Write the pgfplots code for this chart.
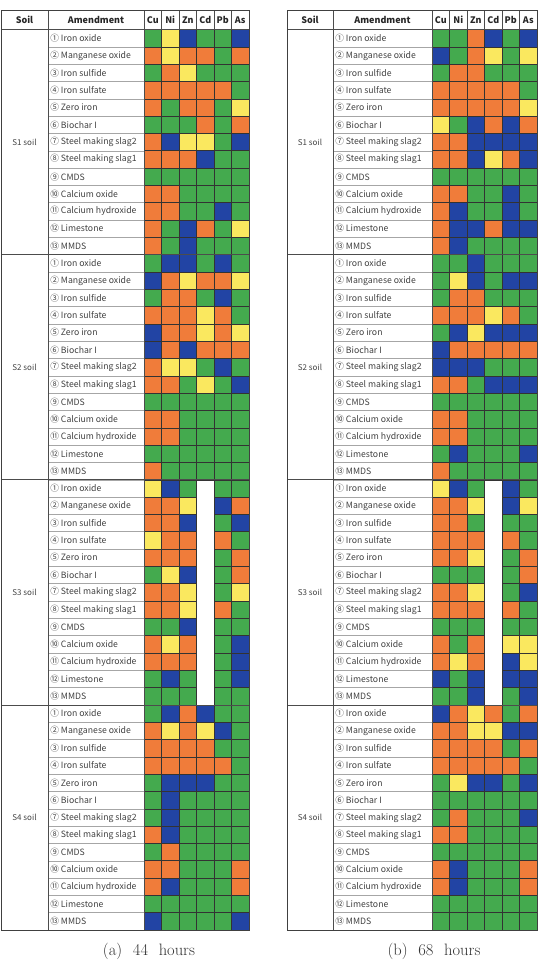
\documentclass[border=0pt]{standalone}
\usepackage{pgfplots}
\usepackage{pgfplotstable}
\pgfplotsset{compat=1.18}
\usepackage{fontspec}
\newfontfamily\tabfont{Noto Sans CJK KR}

\definecolor{cgreen}{RGB}{68,170,78}
\definecolor{cyellow}{RGB}{250,232,95}
\definecolor{corange}{RGB}{240,124,58}
\definecolor{cblue}{RGB}{34,68,164}

% Cell codes: 0 green, 1 yellow, 2 orange, 3 blue, 4 not measured
\pgfplotstableread{
row Cu Ni Zn Cd Pb As
0 0 1 3 0 0 3
1 2 1 2 2 0 2
2 0 2 1 0 0 0
3 2 2 2 2 2 0
4 2 0 2 2 0 1
5 0 0 0 2 0 2
6 2 3 1 1 0 3
7 2 2 2 3 0 0
8 0 0 0 0 0 0
9 2 2 0 0 0 0
10 2 2 0 0 3 0
11 2 0 3 2 0 1
12 2 0 3 0 0 0
13 0 3 3 0 3 0
14 3 2 1 2 2 1
15 0 2 2 0 3 0
16 2 2 2 1 2 0
17 3 2 2 1 2 1
18 3 2 3 2 2 2
19 2 1 1 0 3 0
20 2 2 0 1 0 3
21 0 0 0 0 0 0
22 2 2 0 0 0 0
23 2 2 0 0 0 0
24 0 0 0 0 0 0
25 2 0 0 0 0 0
26 1 3 0 4 0 0
27 2 2 1 4 3 2
28 2 2 3 4 0 3
29 1 2 2 4 2 0
30 2 2 2 4 0 2
31 0 1 3 4 0 2
32 2 2 1 4 0 1
33 2 2 1 4 2 0
34 0 0 3 4 0 0
35 2 1 2 4 0 3
36 2 2 2 4 0 3
37 0 3 0 4 0 3
38 0 0 0 4 0 0
39 0 3 2 3 0 0
40 2 1 2 1 3 0
41 2 2 2 2 0 0
42 2 2 2 2 2 0
43 0 3 3 3 0 0
44 0 3 0 0 0 0
45 0 3 0 0 0 0
46 2 3 0 0 0 0
47 0 2 0 0 0 0
48 2 2 0 0 0 2
49 2 3 0 0 0 2
50 0 0 0 0 0 0
51 3 0 0 0 0 3
}\hoursA

\pgfplotstableread{
row Cu Ni Zn Cd Pb As
0 0 0 2 3 0 3
1 3 0 2 1 0 1
2 0 2 2 0 0 0
3 2 2 2 2 2 0
4 2 2 2 2 2 1
5 1 0 3 2 3 2
6 2 2 3 3 3 3
7 2 2 3 1 2 3
8 0 0 0 0 0 0
9 2 2 0 0 3 0
10 2 3 0 0 3 0
11 2 3 3 2 3 3
12 2 3 0 0 0 0
13 0 0 3 0 0 0
14 0 1 3 0 3 3
15 0 2 2 0 0 0
16 2 2 2 1 2 0
17 0 3 1 3 3 3
18 3 2 2 2 2 2
19 3 3 3 0 0 0
20 2 2 0 3 3 3
21 0 0 0 0 0 0
22 2 2 0 0 0 0
23 2 2 0 0 0 0
24 0 3 0 0 0 3
25 2 0 0 0 0 0
26 1 3 0 4 3 0
27 2 2 1 4 3 1
28 2 2 0 4 0 0
29 2 2 2 4 2 0
30 2 2 1 4 0 2
31 0 0 0 4 0 2
32 2 2 1 4 0 3
33 2 2 2 4 2 0
34 0 0 0 4 0 0
35 2 0 2 4 1 1
36 2 1 2 4 3 1
37 3 0 3 4 3 3
38 0 0 3 4 0 3
39 3 2 1 2 0 2
40 2 2 1 1 3 3
41 2 2 2 2 0 2
42 2 2 2 2 2 0
43 0 1 3 3 0 3
44 0 0 0 0 0 0
45 0 2 0 0 0 3
46 2 2 0 0 0 0
47 0 0 0 0 0 0
48 2 3 0 0 0 2
49 2 3 0 0 0 2
50 0 0 0 0 0 0
51 0 0 0 0 0 0
}\hoursB

\def\rowh{17.317}
\pgfplotsset{
  cellgrid/.style={
    hide axis, clip=false,
    x=17.5pt, y=\rowh pt, y dir=reverse,
    xmax=5.5, ymin=-1.626, ymax=51.5,
    anchor=north west,
  },
  cellmark/.style={
    scatter, only marks, mark=square*, mark size=8.75pt,
    scatter src=explicit symbolic, line width=0.5pt,
    mark options={yscale=0.98954},
    scatter/classes={
      0={mark=square*, draw=black!80, fill=cgreen},
      1={mark=square*, draw=black!80, fill=cyellow},
      2={mark=square*, draw=black!80, fill=corange},
      3={mark=square*, draw=black!80, fill=cblue}},
    unbounded coords=discard,
  },
}
% one column of metal cells; code 4 cells are left blank
\newcommand{\metal}[3]{%
  \addplot[cellmark, restrict expr to domain={\thisrow{#3}}{0:3}]
    table[x expr=#2, y=row, meta=#3] {#1};}

\tikzset{
  rowline/.style={draw=black!35, line width=0.4pt},
  frameline/.style={draw=black!70, line width=0.55pt},
  hdr/.style={font=\tabfont\bfseries\fontsize{9}{10}\selectfont, text=black!85},
  body/.style={font=\tabfont\fontsize{8.7}{10}\selectfont, text=black!75},
  soil/.style={font=\tabfont\fontsize{8}{10}\selectfont, text=black!75},
}

% frame, header and row labels of one table; #1 origin, #2 left edge, #3 soil|amendment edge
\newcommand{\tableframe}[3]{%
\begin{scope}[shift={(#1)}, x=17.5pt, y=-\rowh pt]
  \foreach \i in {1,...,51} \draw[rowline] (#3,\i-0.5) -- (-0.5,\i-0.5);
  \foreach \i in {13,26,39} \draw[frameline] (#2,\i-0.5) -- (5.5,\i-0.5);
  \draw[frameline] (#2,-0.5) -- (5.5,-0.5);
  \draw[frameline] (#3,-1.626) -- (#3,51.5);
  \draw[frameline] (-0.5,-1.626) -- (-0.5,51.5);
  \foreach \j in {0.5,1.5,...,4.5} \draw[frameline] (\j,-1.626) -- (\j,-0.5);
  \draw[draw=black!75, line width=0.8pt] (#2,-1.626) rectangle (5.5,51.5);
  \node[hdr] at ({(#2+#3)/2},-1.063) {Soil};
  \node[hdr] at ({(#3-0.5)/2},-1.063) {Amendment};
  \foreach \m [count=\k from 0] in {Cu,Ni,Zn,Cd,Pb,As}
    \node[hdr] at (\k,-1.063) {\m};
  \foreach \s/\lab in {6/S1 soil,19/S2 soil,32/S3 soil,45/S4 soil}
    \node[soil] at ({(#2+#3)/2},\s) {\lab};
  \foreach \s in {0,13,26,39}
    \foreach \n [count=\k from 0] in {① Iron oxide,② Manganese oxide,③ Iron sulfide,④ Iron sulfate,⑤ Zero iron,⑥ Biochar I,⑦ Steel making slag2,⑧ Steel making slag1,⑨ CMDS,⑩ Calcium oxide,⑪ Calcium hydroxide,⑫ Limestone,⑬ MMDS}
      \node[body, anchor=west, inner sep=0pt] at (#3+0.12,\s+\k) {\n};
\end{scope}}

\begin{document}
\begin{tikzpicture}
\useasboundingbox (0,0) rectangle (539pt,-969pt);

\begin{axis}[cellgrid, xmin=-8.6714, at={(1pt,-10pt)}]
  \metal{\hoursA}{0}{Cu}
  \metal{\hoursA}{1}{Ni}
  \metal{\hoursA}{2}{Zn}
  \metal{\hoursA}{3}{Cd}
  \metal{\hoursA}{4}{Pb}
  \metal{\hoursA}{5}{As}
  \coordinate (oA) at (axis cs:0,0);
\end{axis}
\tableframe{oA}{-8.6714}{-5.9857}

\begin{axis}[cellgrid, xmin=-8.7857, at={(287pt,-10pt)}]
  \metal{\hoursB}{0}{Cu}
  \metal{\hoursB}{1}{Ni}
  \metal{\hoursB}{2}{Zn}
  \metal{\hoursB}{3}{Cd}
  \metal{\hoursB}{4}{Pb}
  \metal{\hoursB}{5}{As}
  \coordinate (oB) at (axis cs:0,0);
\end{axis}
\tableframe{oB}{-8.7857}{-6.1571}

\node[font=\fontsize{16.5}{18}\selectfont, text=black!80] at (149pt,-951pt) {(a)\hspace{0.65em}44\hspace{0.65em}hours};
\node[font=\fontsize{16.5}{18}\selectfont, text=black!80] at (434pt,-951pt) {(b)\hspace{0.65em}68\hspace{0.65em}hours};
\end{tikzpicture}
\end{document}
